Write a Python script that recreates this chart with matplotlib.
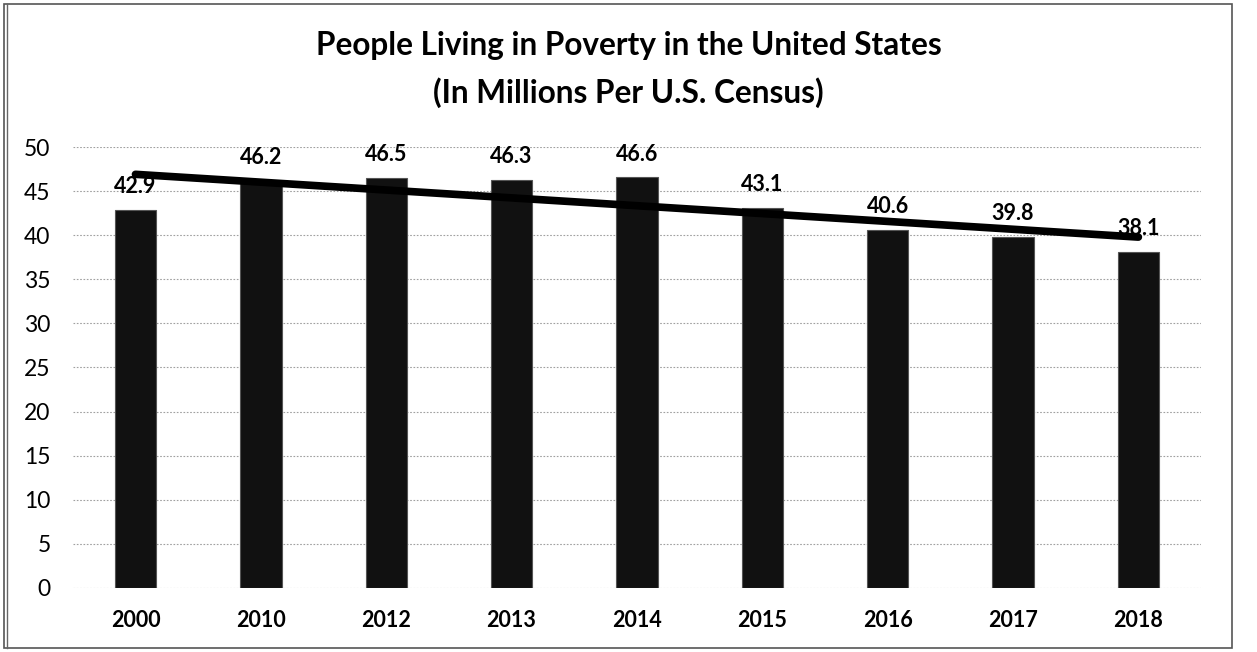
import numpy as np
import matplotlib.pyplot as plt
from matplotlib.patches import Rectangle

years = ["2000", "2010", "2012", "2013", "2014", "2015", "2016", "2017", "2018"]
people_millions = [42.9, 46.2, 46.5, 46.3, 46.6, 43.1, 40.6, 39.8, 38.1]
y_ticks = [0, 5, 10, 15, 20, 25, 30, 35, 40, 45, 50]

plt.rcParams['font.family'] = ['Lato', 'DejaVu Sans']

fig = plt.figure(figsize=(12.57, 6.52), dpi=100)
ax = fig.add_axes([0.0579, 0.0982, 0.8976, 0.6763])

x = np.arange(len(years))
ax.bar(x, people_millions, width=0.33, color='#111111', edgecolor='#555555',
       linewidth=0.8, zorder=2)

# linear trendline through the bar values
slope, intercept = np.polyfit(x, people_millions, 1)
ax.plot(x[[0, -1]], slope * x[[0, -1]] + intercept, color='black', lw=5.5,
        solid_capstyle='round', zorder=3)

for xi, v in zip(x, people_millions):
    ax.annotate(f"{v}", (xi, v), xytext=(0, 9), textcoords='offset points',
                ha='center', va='bottom', fontsize=15.5, fontweight='bold', zorder=4)

ax.set_xlim(-0.5, len(years) - 0.5)
ax.set_ylim(0, 50)
ax.set_yticks(y_ticks)
ax.set_xticks(x)
ax.set_xticklabels(years, fontsize=15.5, fontweight='bold')
ax.tick_params(axis='y', labelsize=16.5, length=0, pad=16)
ax.tick_params(axis='x', length=0, pad=16)
ax.yaxis.grid(True, color='#a0a0a0', linestyle=(0, (1.5, 1.5)), linewidth=0.8, zorder=0)
for s in ax.spines.values():
    s.set_visible(False)

fig.text(0.5, 1 - 55 / 652, "People Living in Poverty in the United States",
         ha='center', va='baseline', fontsize=22.7, fontweight='bold')
fig.text(0.5, 1 - 103 / 652, "(In Millions Per U.S. Census)",
         ha='center', va='baseline', fontsize=22.7, fontweight='bold')

# chart frame
fig.patches.append(Rectangle((4 / 1257, 4 / 652), 1228 / 1257, 644 / 652,
                             transform=fig.transFigure, fill=False,
                             edgecolor='#555555', linewidth=1.2))
fig.add_artist(plt.Line2D([7 / 1257, 7 / 1257], [4 / 652, 648 / 652],
                          transform=fig.transFigure, color='#666666', lw=1))

fig.savefig("out.png", dpi=100)
